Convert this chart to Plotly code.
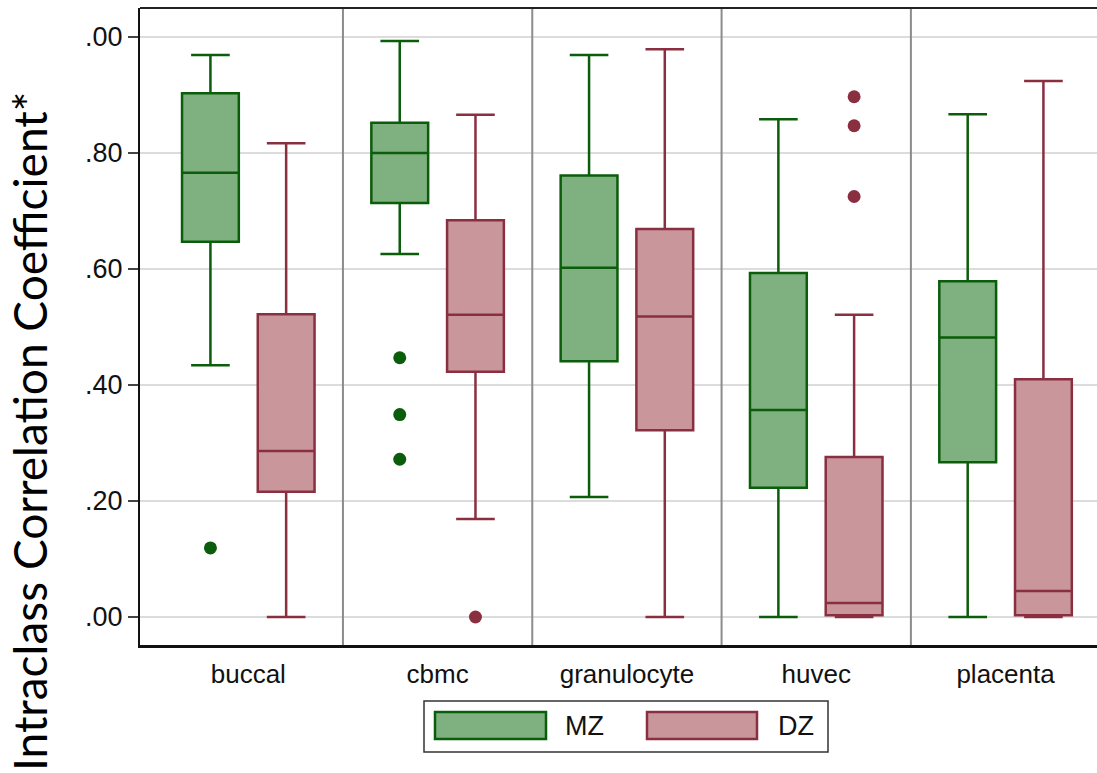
import plotly.graph_objects as go

categories = ["buccal", "cbmc", "granulocyte", "huvec", "placenta"]

mz_lower = [0.434, 0.626, 0.207, 0.000, 0.000]
mz_q1 = [0.647, 0.714, 0.441, 0.223, 0.267]
mz_median = [0.766, 0.800, 0.602, 0.357, 0.482]
mz_q3 = [0.903, 0.852, 0.761, 0.593, 0.579]
mz_upper = [0.969, 0.993, 0.969, 0.858, 0.867]
mz_outlier_cat = [0, 1, 1, 1]
mz_outlier_val = [0.119, 0.447, 0.349, 0.272]

dz_lower = [0.000, 0.169, 0.000, 0.000, 0.000]
dz_q1 = [0.216, 0.423, 0.322, 0.003, 0.003]
dz_median = [0.286, 0.521, 0.518, 0.024, 0.045]
dz_q3 = [0.522, 0.684, 0.669, 0.276, 0.410]
dz_upper = [0.817, 0.866, 0.979, 0.521, 0.924]
dz_outlier_cat = [1, 3, 3, 3]
dz_outlier_val = [0.000, 0.897, 0.847, 0.725]

y_tickvals = [0.0, 0.2, 0.4, 0.6, 0.8, 1.0]
y_ticktext = [".00", ".20", ".40", ".60", ".80", ".00"]

MZ_FILL, MZ_LINE = "#7fb07f", "#0b5c0b"
DZ_FILL, DZ_LINE = "#c9969c", "#8a2f40"
OFF = 0.2

fig = go.Figure()
idx = list(range(len(categories)))
fig.add_trace(go.Box(
    x=[i - OFF for i in idx], q1=mz_q1, median=mz_median, q3=mz_q3,
    lowerfence=mz_lower, upperfence=mz_upper, width=0.3, whiskerwidth=0.68,
    boxpoints=False, fillcolor=MZ_FILL, line=dict(color=MZ_LINE, width=2.5),
    name="MZ", showlegend=False))
fig.add_trace(go.Box(
    x=[i + OFF for i in idx], q1=dz_q1, median=dz_median, q3=dz_q3,
    lowerfence=dz_lower, upperfence=dz_upper, width=0.3, whiskerwidth=0.68,
    boxpoints=False, fillcolor=DZ_FILL, line=dict(color=DZ_LINE, width=2.5),
    name="DZ", showlegend=False))
fig.add_trace(go.Scatter(
    x=[c - OFF for c in mz_outlier_cat], y=mz_outlier_val, mode="markers",
    marker=dict(color=MZ_LINE, size=13), showlegend=False))
fig.add_trace(go.Scatter(
    x=[c + OFF for c in dz_outlier_cat], y=dz_outlier_val, mode="markers",
    marker=dict(color=DZ_LINE, size=13), showlegend=False))

PL, PT, PB = 140, 8, 645
W, H = 1097, 773
PW, PH = W - PL, PB - PT

def px(x):
    return (x - PL) / PW

def py(y):
    return (PB - y) / PH

shapes = []
for k in range(len(categories) - 1):
    shapes.append(dict(type="line", xref="x", yref="paper", x0=k + 0.5, x1=k + 0.5,
                       y0=0, y1=1, line=dict(color="#8c8c8c", width=2), layer="above"))
shapes.append(dict(type="line", xref="paper", yref="paper", x0=0, x1=1, y0=1, y1=1,
                   line=dict(color="#222", width=2)))
# legend frame and swatches
shapes.append(dict(type="rect", xref="paper", yref="paper", x0=px(424), x1=px(828),
                   y0=py(752), y1=py(701), line=dict(color="#333", width=1.5),
                   fillcolor="white"))
shapes.append(dict(type="rect", xref="paper", yref="paper", x0=px(435), x1=px(546),
                   y0=py(739), y1=py(712), line=dict(color=MZ_LINE, width=2.5),
                   fillcolor=MZ_FILL))
shapes.append(dict(type="rect", xref="paper", yref="paper", x0=px(647), x1=px(757),
                   y0=py(739), y1=py(712), line=dict(color=DZ_LINE, width=2.5),
                   fillcolor=DZ_FILL))

annotations = [
    dict(text="MZ", xref="paper", yref="paper", x=px(563), y=py(726), xanchor="left",
         yanchor="middle", showarrow=False,
         font=dict(family="Liberation Sans, Arial", size=27, color="#111")),
    dict(text="DZ", xref="paper", yref="paper", x=px(776), y=py(726), xanchor="left",
         yanchor="middle", showarrow=False,
         font=dict(family="Liberation Sans, Arial", size=27, color="#111")),
    dict(text="Intraclass Correlation Coefficient*", xref="paper", yref="paper",
         x=px(30), y=py(432), xanchor="center", yanchor="middle", textangle=-90,
         showarrow=False, font=dict(family="Lato, Carlito, sans-serif", size=46, color="#000")),
]

fig.update_layout(
    width=W, height=H,
    margin=dict(l=PL, r=0, t=PT, b=H - PB, pad=0),
    paper_bgcolor="white", plot_bgcolor="white",
    showlegend=False, shapes=shapes, annotations=annotations,
    xaxis=dict(range=[-0.572, 4.483], tickvals=idx, ticktext=categories,
               showgrid=False, zeroline=False, showline=True, linecolor="#111",
               linewidth=3, ticks="outside", ticklen=4, tickcolor="rgba(0,0,0,0)",
               tickfont=dict(family="Liberation Sans, Arial", size=26, color="#111")),
    yaxis=dict(range=[-0.0483, 1.05], tickvals=y_tickvals, ticktext=y_ticktext,
               showgrid=True, gridcolor="#dcdcdc", gridwidth=2, zeroline=False,
               showline=True, linecolor="#111", linewidth=2, ticks="outside",
               ticklen=10, tickwidth=1.5, tickcolor="#444",
               tickfont=dict(family="Liberation Sans, Arial", size=27, color="#111")),
)

fig.write_html("out.html")
